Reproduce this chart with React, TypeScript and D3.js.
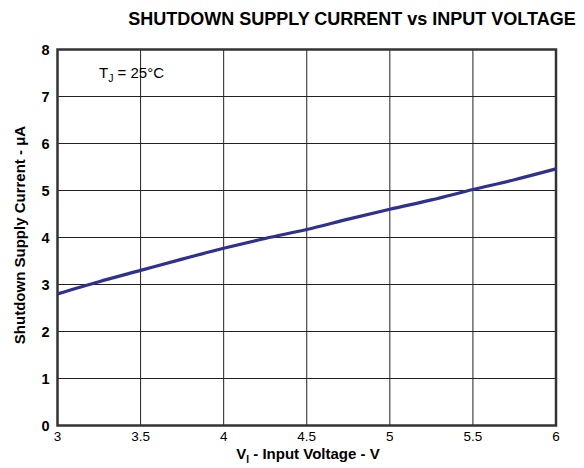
import React from "react";
import * as d3 from "d3";

const xTicks = [3, 3.5, 4, 4.5, 5, 5.5, 6];
const xTickLabels = ["3", "3.5", "4", "4.5", "5", "5.5", "6"];
const yTicks = [0, 1, 2, 3, 4, 5, 6, 7, 8];
const voltage = [3, 3.25, 3.5, 3.75, 4, 4.25, 4.5, 4.75, 5, 5.25, 5.5, 5.75, 6];
const current = [2.8, 3.06, 3.3, 3.54, 3.77, 3.98, 4.17, 4.39, 4.6, 4.8, 5.02, 5.23, 5.46];

export default function App() {
  const W = 584, H = 468;
  const L = 57.5, R = 556, T = 49.5, B = 425.5;
  const x = d3.scaleLinear().domain([3, 6]).range([L, R]);
  const y = d3.scaleLinear().domain([0, 8]).range([B, T]);
  const line = d3.line<number>().x((_, i) => x(voltage[i])).y((d) => y(d)).curve(d3.curveMonotoneX);
  const font = "Arial, 'Liberation Sans', Helvetica, sans-serif";
  return (
    <svg width={W} height={H} style={{ position: "absolute", left: 0, top: 0 }} fontFamily={font}>
      <rect width={W} height={H} fill="#fff" />
      <text x={352} y={25} textAnchor="middle" fontSize={18} fontWeight="bold" fill="#000">
        SHUTDOWN SUPPLY CURRENT vs INPUT VOLTAGE
      </text>
      {xTicks.slice(1, -1).map((t) => (
        <line key={"gx" + t} x1={x(t)} x2={x(t)} y1={T} y2={B} stroke="#222" strokeWidth={1} />
      ))}
      {yTicks.slice(1, -1).map((t) => (
        <line key={"gy" + t} x1={L} x2={R} y1={y(t)} y2={y(t)} stroke="#222" strokeWidth={1} />
      ))}
      <rect x={L} y={T} width={R - L} height={B - T} fill="none" stroke="#333" strokeWidth={2.5} />
      <path d={line(current) || ""} fill="none" stroke="#2E3192" strokeWidth={3.2} />
      {yTicks.map((t) => (
        <text key={"yt" + t} x={L - 8} y={y(t) + 5} textAnchor="end" fontSize={14.5} fontWeight="bold">
          {t}
        </text>
      ))}
      {xTicks.map((t, i) => (
        <text key={"xt" + t} x={x(t)} y={B + 15} textAnchor="middle" fontSize={13.5}>
          {xTickLabels[i]}
        </text>
      ))}
      <text x={308} y={459} textAnchor="middle" fontSize={15} fontWeight="bold">
        V<tspan fontSize={10} dy={4}>I</tspan><tspan dy={-4}> - Input Voltage - V</tspan>
      </text>
      <text transform={`translate(25,235) rotate(-90)`} textAnchor="middle" fontSize={15} fontWeight="bold">
        Shutdown Supply Current - μA
      </text>
      <text x={99} y={78} fontSize={15}>
        T<tspan fontSize={10.5} dy={4}>J</tspan><tspan dy={-4}> = 25°C</tspan>
      </text>
    </svg>
  );
}
